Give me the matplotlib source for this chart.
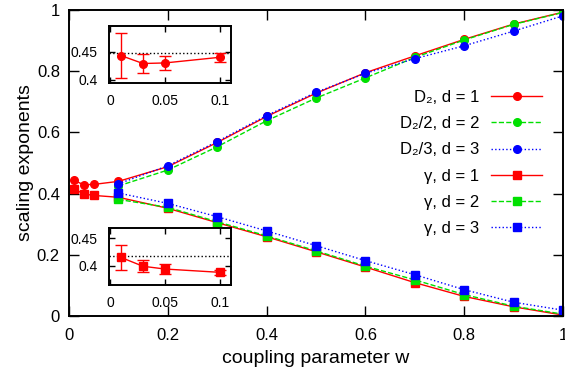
import matplotlib
matplotlib.use('Agg')
import matplotlib.pyplot as plt
import numpy as np

plt.rcParams['font.family'] = ['Liberation Sans', 'DejaVu Sans']

# data
w_d1 = [0.01, 0.03, 0.05, 0.1, 0.2, 0.3, 0.4, 0.5, 0.6, 0.7, 0.8, 0.9, 1.0]
w_d23 = [0.1, 0.2, 0.3, 0.4, 0.5, 0.6, 0.7, 0.8, 0.9, 1.0]

D2_d1 = [0.443, 0.429, 0.430, 0.440, 0.488, 0.567, 0.652, 0.728, 0.795, 0.850, 0.904, 0.954, 0.993]
D2_d2 = [0.425, 0.477, 0.553, 0.638, 0.712, 0.778, 0.845, 0.902, 0.953, 0.992]
D2_d3 = [0.432, 0.491, 0.570, 0.655, 0.731, 0.793, 0.841, 0.883, 0.931, 0.981]

gam_d1 = [0.415, 0.399, 0.394, 0.388, 0.352, 0.305, 0.259, 0.210, 0.160, 0.109, 0.064, 0.030, 0.003]
gam_d2 = [0.381, 0.355, 0.308, 0.262, 0.213, 0.163, 0.118, 0.070, 0.032, 0.006]
gam_d3 = [0.402, 0.368, 0.3245, 0.278, 0.230, 0.181, 0.135, 0.086, 0.045, 0.019]

# insets: small w, d = 1, with errors
w_small = [0.01, 0.03, 0.05, 0.1]
D2_small = [0.443, 0.429, 0.430, 0.440]
D2_err = [0.040, 0.016, 0.012, 0.0075]
D2_ref = 0.447
gam_small = [0.415, 0.399, 0.394, 0.388]
gam_err = [0.023, 0.011, 0.009, 0.004]
gam_ref = 0.417

red = '#ff0000'
green = '#00e000'
blue = '#0000ff'

fig = plt.figure(figsize=(5.65, 3.75), dpi=100)
ax = fig.add_axes([69/565, 59/375, 494/565, 306/375])

ax.plot(w_d1, D2_d1, '-', color=red, marker='o', ms=5.5, lw=1, label='D₂, d = 1')
ax.plot(w_d23, D2_d2, '--', color=green, marker='o', ms=5.5, lw=1, label='D₂/2, d = 2')
ax.plot(w_d23, D2_d3, ':', color=blue, marker='o', ms=5.5, lw=1, label='D₂/3, d = 3')
ax.plot(w_d1, gam_d1, '-', color=red, marker='s', ms=6, lw=1, label='γ, d = 1')
ax.plot(w_d23, gam_d2, '--', color=green, marker='s', ms=6, lw=1, label='γ, d = 2')
ax.plot(w_d23, gam_d3, ':', color=blue, marker='s', ms=6, lw=1, label='γ, d = 3')

ax.set_xlim(0, 1)
ax.set_ylim(0, 1)
ax.set_xticks([0, 0.2, 0.4, 0.6, 0.8, 1])
ax.set_xticklabels(['0', '0.2', '0.4', '0.6', '0.8', '1'])
ax.set_yticks([0, 0.2, 0.4, 0.6, 0.8, 1])
ax.set_yticklabels(['0', '0.2', '0.4', '0.6', '0.8', '1'])
ax.tick_params(direction='in', length=7, width=1, top=True, right=True, labelsize=12)
ax.tick_params(axis='x', pad=8.5)
ax.tick_params(axis='y', pad=6.5)
for s in ax.spines.values():
    s.set_linewidth(1.4)
ax.set_xlabel('coupling parameter w', fontsize=14, labelpad=5)
ax.set_ylabel('scaling exponents', fontsize=14, labelpad=2)

leg = ax.legend(loc='upper right', bbox_to_anchor=(542/565, 1 - 90/375),
                bbox_transform=fig.transFigure, frameon=False, markerfirst=False,
                borderpad=0, borderaxespad=0, handlelength=3.05, handletextpad=0.7,
                labelspacing=0.67, fontsize=12)

# inset for D2
ins1 = fig.add_axes([109/565, 1 - 82.7/375, 121.7/565, 57/375])
ins1.axhline(D2_ref, color='black', ls=':', lw=1)
ins1.errorbar(w_small, D2_small, yerr=D2_err, color=red, marker='o', ms=5.5, lw=1, capsize=4)
ins1.set_xlim(-0.001, 0.11)
ins1.set_ylim(0.395, 0.496)
ins1.set_xticks([0, 0.05, 0.1])
ins1.set_xticklabels(['0', '0.05', '0.1'])
ins1.set_yticks([0.4, 0.45])
ins1.set_yticklabels(['0.4', '0.45'])

# inset for gamma
ins2 = fig.add_axes([109/565, 1 - 285/375, 121.7/565, 57.3/375])
ins2.axhline(gam_ref, color='black', ls=':', lw=1)
ins2.errorbar(w_small, gam_small, yerr=gam_err, color=red, marker='s', ms=6, lw=1, capsize=4)
ins2.set_xlim(-0.001, 0.11)
ins2.set_ylim(0.365, 0.469)
ins2.set_xticks([0, 0.05, 0.1])
ins2.set_xticklabels(['0', '0.05', '0.1'])
ins2.set_yticks([0.4, 0.45])
ins2.set_yticklabels(['0.4', '0.45'])

for a in (ins1, ins2):
    a.tick_params(direction='in', length=4, width=1, top=True, right=True, labelsize=10)
    a.tick_params(axis='x', pad=8)
    a.tick_params(axis='y', pad=8)
    for s in a.spines.values():
        s.set_linewidth(1.4)

fig.savefig('out.png', dpi=100)
